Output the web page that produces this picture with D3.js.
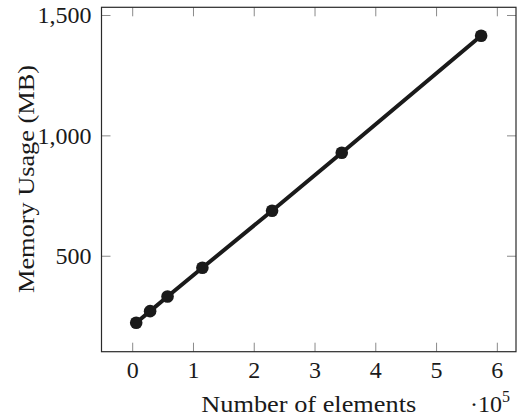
<!DOCTYPE html>
<html>
<head>
<meta charset="utf-8">
<script src="https://cdn.jsdelivr.net/npm/d3@7"></script>
<style>
  html, body { margin: 0; padding: 0; background: #fff; }
  svg { display: block; }
</style>
</head>
<body>
<svg id="chart" width="518" height="417"></svg>
<script>
// Memory usage measured for growing input sizes
const elements = [5733, 28665, 57330, 114660, 229320, 343980, 573300];
const memoryMB = [224, 272, 333, 452, 689, 930, 1416];
const xTicks = [0, 100000, 200000, 300000, 400000, 500000, 600000];
const yTicks = [500, 1000, 1500];

const FONT = "Liberation Serif, Tinos, Times New Roman, Times, Nimbus Roman, DejaVu Serif, serif";
const INK = "#1a1a1a";

const svg = d3.select("#chart");
const plot = { left: 101.5, right: 516, top: 7.3, bottom: 351.7 };

const x = d3.scaleLinear().domain([-51340, 630700]).range([plot.left, plot.right]);
const y = d3.scaleLinear().domain([103.5, 1534]).range([plot.bottom, plot.top]);

const tickLen = 9;
const fmtY = d3.format(",");

// inward ticks on all four sides
const tickG = svg.append("g").attr("stroke", "#8a8a8a").attr("stroke-width", 1);
xTicks.forEach(t => {
  const px = x(t);
  tickG.append("line").attr("x1", px).attr("x2", px).attr("y1", plot.bottom).attr("y2", plot.bottom - tickLen);
  tickG.append("line").attr("x1", px).attr("x2", px).attr("y1", plot.top).attr("y2", plot.top + tickLen);
});
yTicks.forEach(t => {
  const py = y(t);
  tickG.append("line").attr("x1", plot.left).attr("x2", plot.left + tickLen).attr("y1", py).attr("y2", py);
  tickG.append("line").attr("x1", plot.right).attr("x2", plot.right - tickLen).attr("y1", py).attr("y2", py);
});

// frame
svg.append("rect")
  .attr("x", plot.left).attr("y", plot.top)
  .attr("width", plot.right - plot.left).attr("height", plot.bottom - plot.top)
  .attr("fill", "none").attr("stroke", "#2a2a2a").attr("stroke-width", 1.2);

const txt = sel => sel.style("font-family", FONT).attr("fill", INK);

// tick labels
svg.append("g").selectAll("text").data(xTicks).join("text")
  .call(txt)
  .attr("x", d => x(d)).attr("y", plot.bottom + 26)
  .attr("text-anchor", "middle").attr("font-size", 24)
  .text(d => d / 1e5);

svg.append("g").selectAll("text").data(yTicks).join("text")
  .call(txt)
  .attr("x", plot.left - 10).attr("y", d => y(d) + 8)
  .attr("text-anchor", "end").attr("font-size", 24)
  .text(d => fmtY(d));

// axis titles
svg.append("text").call(txt)
  .attr("x", (plot.left + plot.right) / 2).attr("y", 412)
  .attr("text-anchor", "middle").attr("font-size", 24)
  .attr("textLength", 215).attr("lengthAdjust", "spacingAndGlyphs")
  .text("Number of elements");

svg.append("text").call(txt)
  .attr("transform", `translate(34,179) rotate(-90)`)
  .attr("text-anchor", "middle").attr("font-size", 24)
  .attr("textLength", 228).attr("lengthAdjust", "spacingAndGlyphs")
  .text("Memory Usage (MB)");

const scaleLabel = svg.append("text").call(txt)
  .attr("x", 470).attr("y", 412).attr("font-size", 24);
scaleLabel.append("tspan").text("·10");
scaleLabel.append("tspan").attr("font-size", 16).attr("dy", -10).text("5");

// series
const pts = elements.map((e, i) => [e, memoryMB[i]]);
const line = d3.line().x(d => x(d[0])).y(d => y(d[1]));

svg.append("path")
  .datum(pts)
  .attr("d", line)
  .attr("fill", "none").attr("stroke", INK)
  .attr("stroke-width", 4).attr("stroke-linejoin", "round");

svg.append("g").selectAll("circle").data(pts).join("circle")
  .attr("cx", d => x(d[0])).attr("cy", d => y(d[1]))
  .attr("r", 6.3).attr("fill", INK);
</script>
</body>
</html>
